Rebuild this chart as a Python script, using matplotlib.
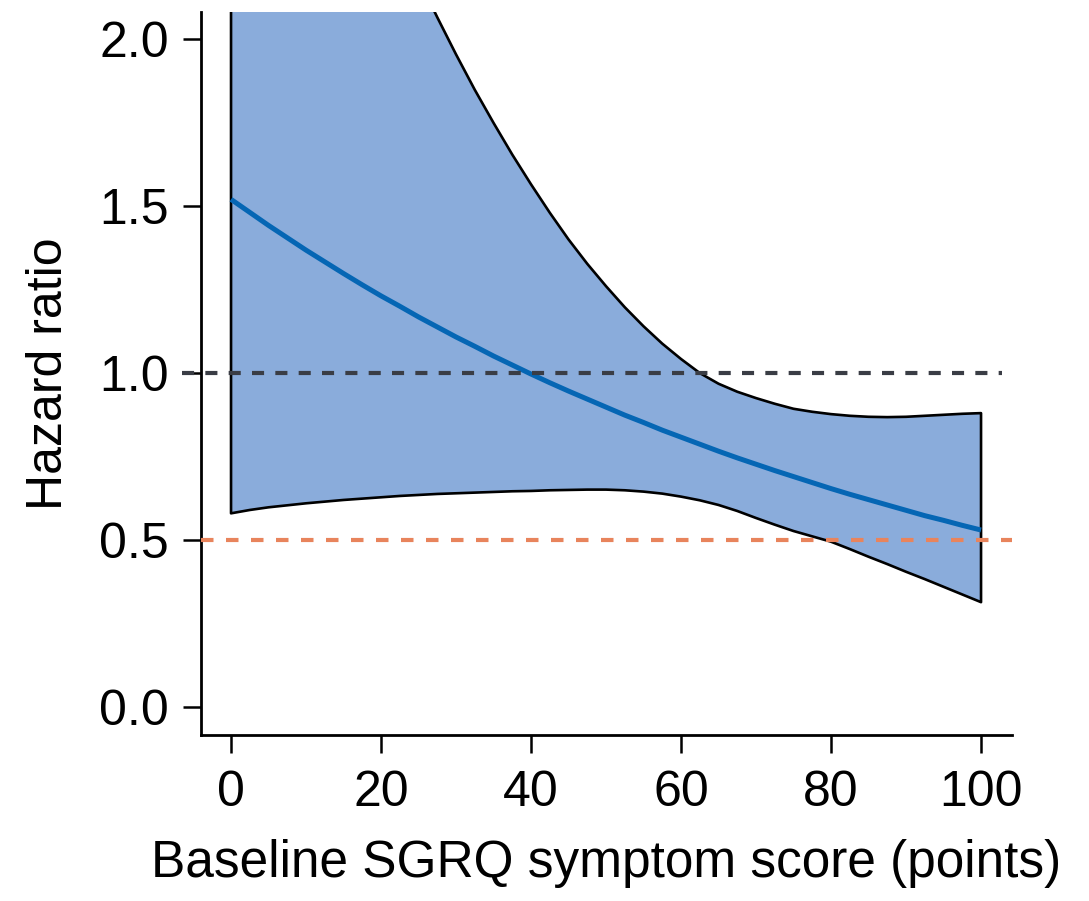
import numpy as np
import matplotlib
matplotlib.use("Agg")
import matplotlib.pyplot as plt

plt.rcParams["font.family"] = ["Liberation Sans", "DejaVu Sans"]

# baseline SGRQ symptom score grid (points)
score = [0, 2.5, 5, 7.5, 10, 12.5, 15, 17.5, 20, 22.5,
         25, 27.5, 30, 32.5, 35, 37.5, 40, 42.5, 45, 47.5,
         50, 52.5, 55, 57.5, 60, 62.5, 65, 67.5, 70, 72.5,
         75, 77.5, 80, 82.5, 85, 87.5, 90, 92.5, 95, 97.5, 100]

# hazard ratio estimate and 95% band
hr_mean = [1.520, 1.481, 1.442, 1.405, 1.368, 1.333, 1.298, 1.264, 1.231, 1.200,
           1.168, 1.138, 1.108, 1.080, 1.051, 1.024, 0.997, 0.971, 0.946, 0.922,
           0.898, 0.874, 0.852, 0.829, 0.808, 0.787, 0.766, 0.746, 0.727, 0.708,
           0.690, 0.672, 0.654, 0.637, 0.621, 0.605, 0.589, 0.573, 0.559, 0.544, 0.530]
hr_upper = [3.82, 3.62, 3.42, 3.24, 3.06, 2.89, 2.73, 2.58, 2.44, 2.307,
            2.18, 2.065, 1.954, 1.848, 1.749, 1.654, 1.565, 1.48, 1.40, 1.327,
            1.26, 1.197, 1.14, 1.088, 1.042, 1.0, 0.968, 0.944, 0.925, 0.908,
            0.893, 0.884, 0.877, 0.872, 0.869, 0.868, 0.869, 0.872, 0.875, 0.878, 0.88]
hr_lower = [0.58, 0.59, 0.598, 0.604, 0.61, 0.615, 0.62, 0.624, 0.628, 0.632,
            0.635, 0.638, 0.64, 0.642, 0.644, 0.646, 0.647, 0.649, 0.65, 0.651,
            0.651, 0.649, 0.645, 0.639, 0.63, 0.619, 0.605, 0.587, 0.566, 0.546,
            0.527, 0.511, 0.495, 0.473, 0.45, 0.428, 0.405, 0.383, 0.36, 0.337, 0.314]

x_ticks = [0, 20, 40, 60, 80, 100]
y_ticks = [0.0, 0.5, 1.0, 1.5, 2.0]

fig = plt.figure(figsize=(10.89, 9.01), dpi=100)
ax = fig.add_axes([0.1846, 0.1842, 0.9293 - 0.1846, 0.9867 - 0.1842])

x = np.array(score)
band_x = np.concatenate([x, x[::-1]])
band_y = np.concatenate([hr_upper, hr_lower[::-1]])
ax.fill(band_x, band_y, facecolor="#8AACDB", edgecolor="black", lw=1.9,
        joinstyle="round", zorder=2)
ax.plot(x, hr_mean, color="#0566B4", lw=3.6, zorder=3, solid_capstyle="butt")

# reference lines: HR = 1 and HR = 0.5
ax.plot([-6.5, 102.8], [1.0, 1.0], color="#3a3d45", lw=3.0, ls=(0, (2.9, 2.7)),
        clip_on=False, zorder=4)
ax.plot([-4.0, 104.1], [0.5, 0.5], color="#E8845C", lw=3.0, ls=(0, (3.0, 3.0)),
        zorder=4)

ax.set_xlim(-4.0, 104.13)
ax.set_ylim(-0.0838, 2.081)
ax.set_xticks(x_ticks)
ax.set_yticks(y_ticks)
ax.set_yticklabels([f"{v:.1f}" for v in y_ticks])

for side in ["top", "right"]:
    ax.spines[side].set_visible(False)
for side in ["left", "bottom"]:
    ax.spines[side].set_linewidth(2.0)

ax.tick_params(axis="both", labelsize=36, length=13, width=1.8)
ax.tick_params(axis="y", pad=10)
ax.tick_params(axis="x", pad=12)

ax.set_xlabel("Baseline SGRQ symptom score (points)", fontsize=37, labelpad=17)
ax.set_ylabel("Hazard ratio", fontsize=36, labelpad=20)

fig.savefig("out.png", dpi=100)
